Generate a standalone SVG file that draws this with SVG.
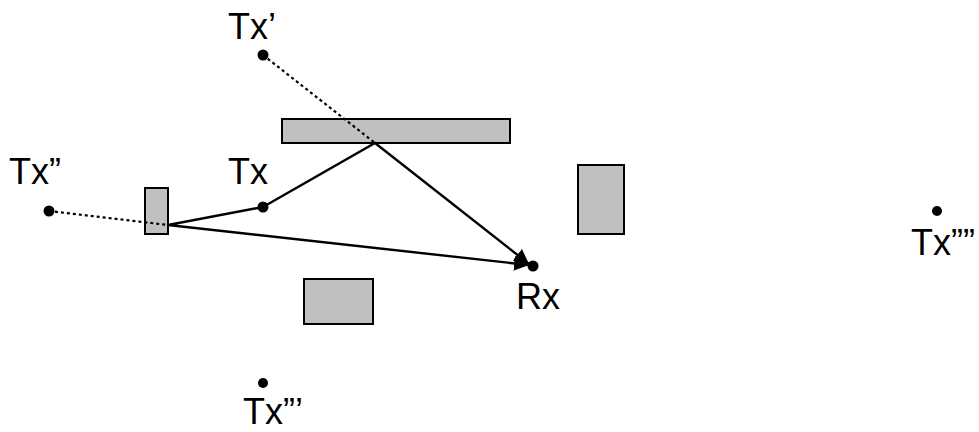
<svg xmlns="http://www.w3.org/2000/svg" width="979" height="432" viewBox="0 0 979 432">
<style>
.obs{fill:#c0c0c0;stroke:#000;stroke-width:2}
.dot{fill:#000}
.lbl{font-family:"Liberation Sans",Arial,sans-serif;font-size:36px;fill:#000}
.ray{fill:none;stroke:#000;stroke-width:2.4}
.dash{fill:none;stroke:#000;stroke-width:2.2;stroke-dasharray:3 3}
</style>
<defs>
<marker id="ah" viewBox="0 0 10 10" refX="10" refY="5" markerWidth="6.2" markerHeight="6.2" orient="auto" markerUnits="strokeWidth">
<path d="M0,0 L10,5 L0,10 Z" fill="#000"/>
</marker>
</defs>
<rect width="979" height="432" fill="#fff"/>
<g id="obstacles">
<rect id="wall-top" class="obs" x="282" y="119" width="228" height="24"/>
<rect id="wall-left" class="obs" x="145" y="188" width="23" height="46"/>
<rect id="wall-right" class="obs" x="578" y="165" width="46" height="69"/>
<rect id="wall-bottom" class="obs" x="304" y="279" width="69" height="45"/>
</g>
<g id="connectors">
<path class="dash" d="M263,55 L375,143"/>
<path class="dash" d="M49,211 L168,225"/>
<path class="ray" d="M263,207 L375,143 L529,264" marker-end="url(#ah)"/>
<path class="ray" d="M263,207 L168,225 L529,265" marker-end="url(#ah)"/>
</g>
<g id="tx">
<circle class="dot" cx="263" cy="207" r="5.5"/>
<text class="lbl" x="228" y="184">Tx</text>
</g>
<g id="tx1">
<circle class="dot" cx="263" cy="55" r="5.5"/>
<text class="lbl" x="228" y="39">Tx’</text>
</g>
<g id="tx2">
<circle class="dot" cx="49" cy="211" r="5.5"/>
<text class="lbl" x="9" y="184">Tx”</text>
</g>
<g id="tx3">
<circle class="dot" cx="263" cy="383" r="5"/>
<text class="lbl" x="243" y="424">Tx”’</text>
</g>
<g id="tx4">
<circle class="dot" cx="937" cy="211" r="5"/>
<text class="lbl" x="911" y="255">Tx””</text>
</g>
<g id="rx">
<circle class="dot" cx="533" cy="266" r="5.5"/>
<text class="lbl" x="516" y="309">Rx</text>
</g>
</svg>
